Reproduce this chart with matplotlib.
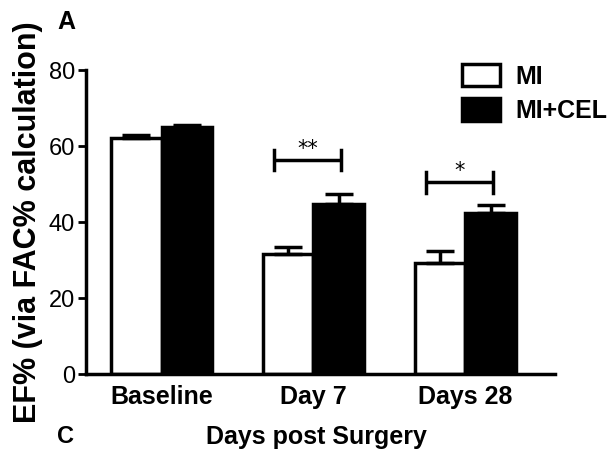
import matplotlib
matplotlib.use("Agg")
import matplotlib.pyplot as plt
import numpy as np

categories = ["Baseline", "Day 7", "Days 28"]
series_names = ["MI", "MI+CEL"]
mi_values = [62.1, 31.6, 29.1]
mi_errors = [0.8, 1.9, 3.4]
cel_values = [64.9, 44.7, 42.3]
cel_errors = [0.7, 2.6, 2.1]
yticks = [0, 20, 40, 60, 80]
sig_labels = ["**", "*"]
sig_groups = [1, 2]
sig_heights = [56.3, 50.4]

plt.rcParams['font.family'] = ['Liberation Sans', 'DejaVu Sans']

fig = plt.figure(figsize=(6.1, 4.57), dpi=100)
ax = fig.add_axes([0.141, 0.1816, 0.769, 0.6652])

x = np.arange(len(categories))
w = 0.335
lw = 2.5
ax.bar(x - w/2, mi_values, w, color='white', edgecolor='black', linewidth=lw, label=series_names[0], zorder=2)
ax.bar(x + w/2, cel_values, w, color='black', edgecolor='black', linewidth=lw, label=series_names[1], zorder=2)
ax.errorbar(x - w/2, mi_values, yerr=[np.zeros(3), mi_errors], fmt='none', ecolor='black',
            elinewidth=2.5, capsize=10, capthick=2.5, zorder=3)
ax.errorbar(x + w/2, cel_values, yerr=[np.zeros(3), cel_errors], fmt='none', ecolor='black',
            elinewidth=2.5, capsize=10, capthick=2.5, zorder=3)

for g, h, s in zip(sig_groups, sig_heights, sig_labels):
    x0, x1 = g - 0.26, g + 0.18
    ax.plot([x0, x1], [h, h], color='black', lw=2.5, solid_capstyle='butt')
    ax.plot([x0, x0], [h - 2.7, h + 2.7], color='black', lw=2.5)
    ax.plot([x1, x1], [h - 2.7, h + 2.7], color='black', lw=2.5)
    ax.text((x0 + x1) / 2, h + 0.4, s, ha='center', va='bottom', fontsize=15, family='DejaVu Sans')

ax.set_xlim(-0.497, 2.59)
ax.set_ylim(0, 80)
ax.set_yticks(yticks)
ax.set_yticklabels([str(t) for t in yticks], fontsize=17)
ax.set_xticks(x)
ax.set_xticklabels(categories, fontsize=18, fontweight='bold')
ax.tick_params(axis='x', length=0, pad=8)
ax.tick_params(axis='y', length=6, width=2, pad=2)
for sp in ['top', 'right']:
    ax.spines[sp].set_visible(False)
for sp in ['left', 'bottom']:
    ax.spines[sp].set_linewidth(2.5)

ax.set_ylabel("EF% (via FAC% calculation)", fontsize=22, fontweight='bold', labelpad=4)

leg = fig.legend(*ax.get_legend_handles_labels(), loc='upper left',
                 bbox_to_anchor=(462 / 610, 1 - 64 / 457), frameon=False,
                 prop={'weight': 'bold', 'size': 18}, handlelength=1.5, handleheight=1.0,
                 handletextpad=0.65, labelspacing=0.38, borderpad=0, borderaxespad=0)

fig.text(0.094, 0.952, "A", fontsize=18, fontweight='bold', ha='left', va='center')
fig.text(0.093, 0.044, "C", fontsize=17, fontweight='bold', ha='left', va='center')
fig.text(0.518, 0.044, "Days post Surgery", fontsize=18, fontweight='bold', ha='center', va='center')

fig.savefig("out.png", dpi=100)
